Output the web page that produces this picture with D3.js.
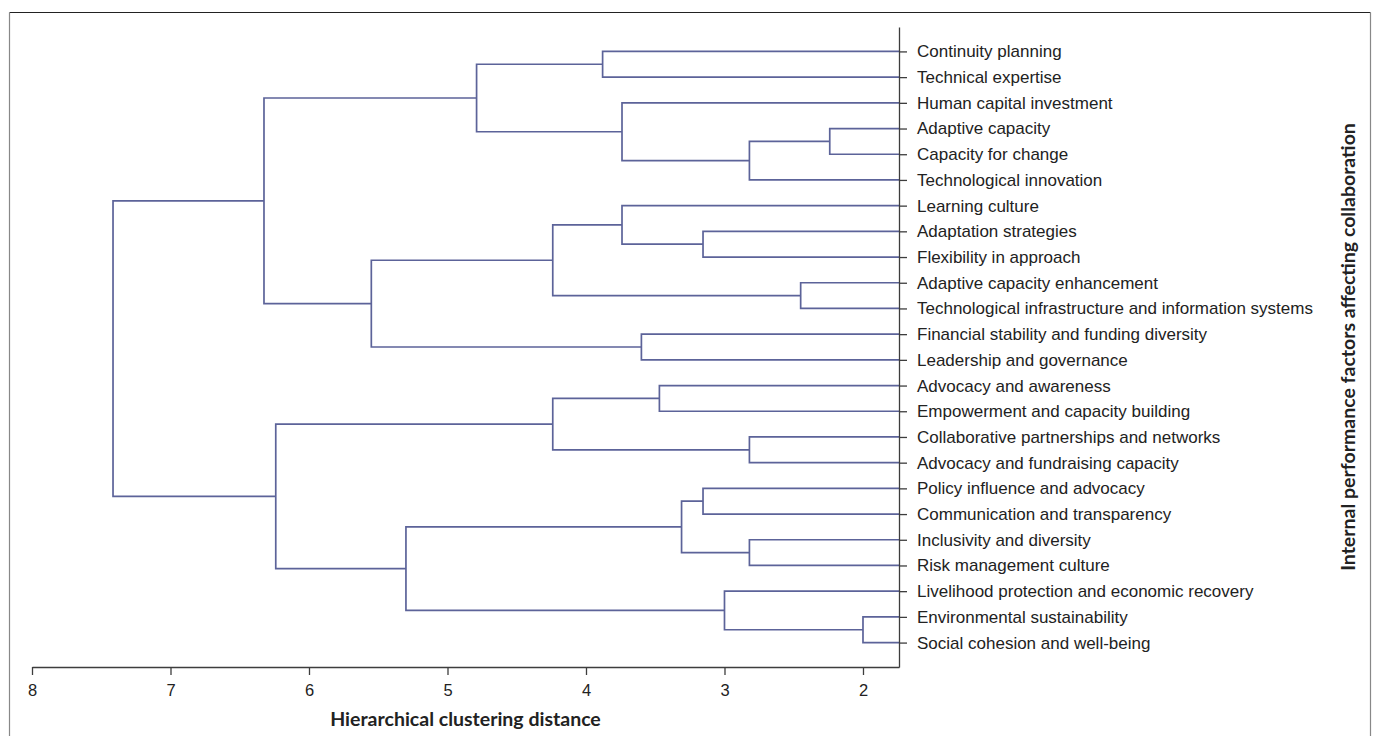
<!DOCTYPE html>
<html lang="en">
<head>
    <meta charset="UTF-8">
    <title>Hierarchical clustering dendrogram</title>
    <script src="https://cdnjs.cloudflare.com/ajax/libs/d3/7.8.5/d3.min.js"></script>
    <style>
        html, body { margin: 0; padding: 0; background: #fff; }
        svg { display: block; font-family: Lato, "Open Sans", sans-serif; }
    </style>
</head>
<body>
    <div id="chart"></div>

    <script>
        // Leaves, top to bottom, in dendrogram order
        const leaves = [
            "Continuity planning",
            "Technical expertise",
            "Human capital investment",
            "Adaptive capacity",
            "Capacity for change",
            "Technological innovation",
            "Learning culture",
            "Adaptation strategies",
            "Flexibility in approach",
            "Adaptive capacity enhancement",
            "Technological infrastructure and information systems",
            "Financial stability and funding diversity",
            "Leadership and governance",
            "Advocacy and awareness",
            "Empowerment and capacity building",
            "Collaborative partnerships and networks",
            "Advocacy and fundraising capacity",
            "Policy influence and advocacy",
            "Communication and transparency",
            "Inclusivity and diversity",
            "Risk management culture",
            "Livelihood protection and economic recovery",
            "Environmental sustainability",
            "Social cohesion and well-being"
        ];

        // Linkage: [child a, child b, distance]; ids 0-23 are leaves, 24+ are merges in order
        const merges = [
            [22, 23, 2.00],   // 24
            [3, 4, 2.24],     // 25
            [9, 10, 2.45],    // 26
            [25, 5, 2.82],    // 27
            [15, 16, 2.82],   // 28
            [19, 20, 2.82],   // 29
            [21, 24, 3.00],   // 30
            [7, 8, 3.155],    // 31
            [17, 18, 3.155],  // 32
            [32, 29, 3.31],   // 33
            [13, 14, 3.47],   // 34
            [11, 12, 3.60],   // 35
            [2, 27, 3.74],    // 36
            [6, 31, 3.74],    // 37
            [0, 1, 3.88],     // 38
            [37, 26, 4.24],   // 39
            [34, 28, 4.24],   // 40
            [38, 36, 4.79],   // 41
            [33, 30, 5.30],   // 42
            [39, 35, 5.55],   // 43
            [40, 42, 6.24],   // 44
            [41, 43, 6.325],  // 45
            [45, 44, 7.415]   // 46
        ];

        const xTicks = [8, 7, 6, 5, 4, 3, 2];
        const xDomain = [8, 1.74];

        const width = 1376, height = 736;
        const lineColor = "#5c6399";
        const axisColor = "#3d3d3d";

        const svg = d3.select("#chart")
            .append("svg")
            .attr("width", width)
            .attr("height", height);

        // outer frame
        svg.append("line").attr("x1", 9.5).attr("x2", 1370.5).attr("y1", 12.5).attr("y2", 12.5)
            .attr("stroke", "#222").attr("stroke-width", 1.2);
        svg.append("line").attr("x1", 9.5).attr("x2", 9.5).attr("y1", 12.5).attr("y2", height)
            .attr("stroke", "#888").attr("stroke-width", 1.2);
        svg.append("line").attr("x1", 1370.5).attr("x2", 1370.5).attr("y1", 12.5).attr("y2", height)
            .attr("stroke", "#888").attr("stroke-width", 1.2);

        // scales
        const x = d3.scaleLinear().domain(xDomain).range([32, 899]);
        const y = d3.scalePoint().domain(leaves).range([27, 667]).padding(0.95);
        const axisY = 667;
        const axisX = x.range()[1];

        // X axis
        const gx = svg.append("g")
            .attr("transform", `translate(0,${axisY})`)
            .call(d3.axisBottom(x).tickValues(xTicks).tickSize(8).tickSizeOuter(0).tickPadding(9)
                .tickFormat(d3.format("d")));
        gx.selectAll("path, line").attr("stroke", axisColor).attr("stroke-width", 1.3);
        gx.selectAll("text").attr("fill", "#222").style("font-size", "16.5px");

        svg.append("text")
            .attr("x", (x.range()[0] + x.range()[1]) / 2)
            .attr("y", 726)
            .attr("text-anchor", "middle")
            .attr("fill", "#222")
            .style("font-size", "19.5px")
            .style("font-weight", "bold")
            .text("Hierarchical clustering distance");

        // Y axis (leaf labels)
        const gy = svg.append("g")
            .attr("transform", `translate(${axisX},0)`)
            .call(d3.axisRight(y).tickSize(8).tickSizeOuter(0).tickPadding(10));
        gy.selectAll("path, line").attr("stroke", axisColor).attr("stroke-width", 1.3);
        gy.selectAll("text").attr("fill", "#222").style("font-size", "17px");

        svg.append("text")
            .attr("transform", `translate(1355,${(y.range()[0] + y.range()[1]) / 2}) rotate(-90)`)
            .attr("text-anchor", "middle")
            .attr("fill", "#222")
            .style("font-size", "19.5px")
            .style("font-weight", "bold")
            .text("Internal performance factors affecting collaboration");

        // node positions: leaves sit on the axis, merges at their distance
        const nodes = leaves.map(name => ({ x: axisX, y: y(name) }));
        const links = [];
        merges.forEach(([a, b, h]) => {
            const na = nodes[a], nb = nodes[b];
            const node = { x: x(h), y: (na.y + nb.y) / 2 };
            links.push({ a: na, b: nb, node: node });
            nodes.push(node);
        });

        svg.append("g")
            .selectAll("path")
            .data(links)
            .join("path")
            .attr("d", d => `M${d.a.x},${d.a.y}H${d.node.x}V${d.b.y}H${d.b.x}`)
            .attr("fill", "none")
            .attr("stroke", lineColor)
            .attr("stroke-width", 1.7);

        // redraw axis on top so leaf lines meet it cleanly
        gy.raise();
    </script>
</body>
</html>
